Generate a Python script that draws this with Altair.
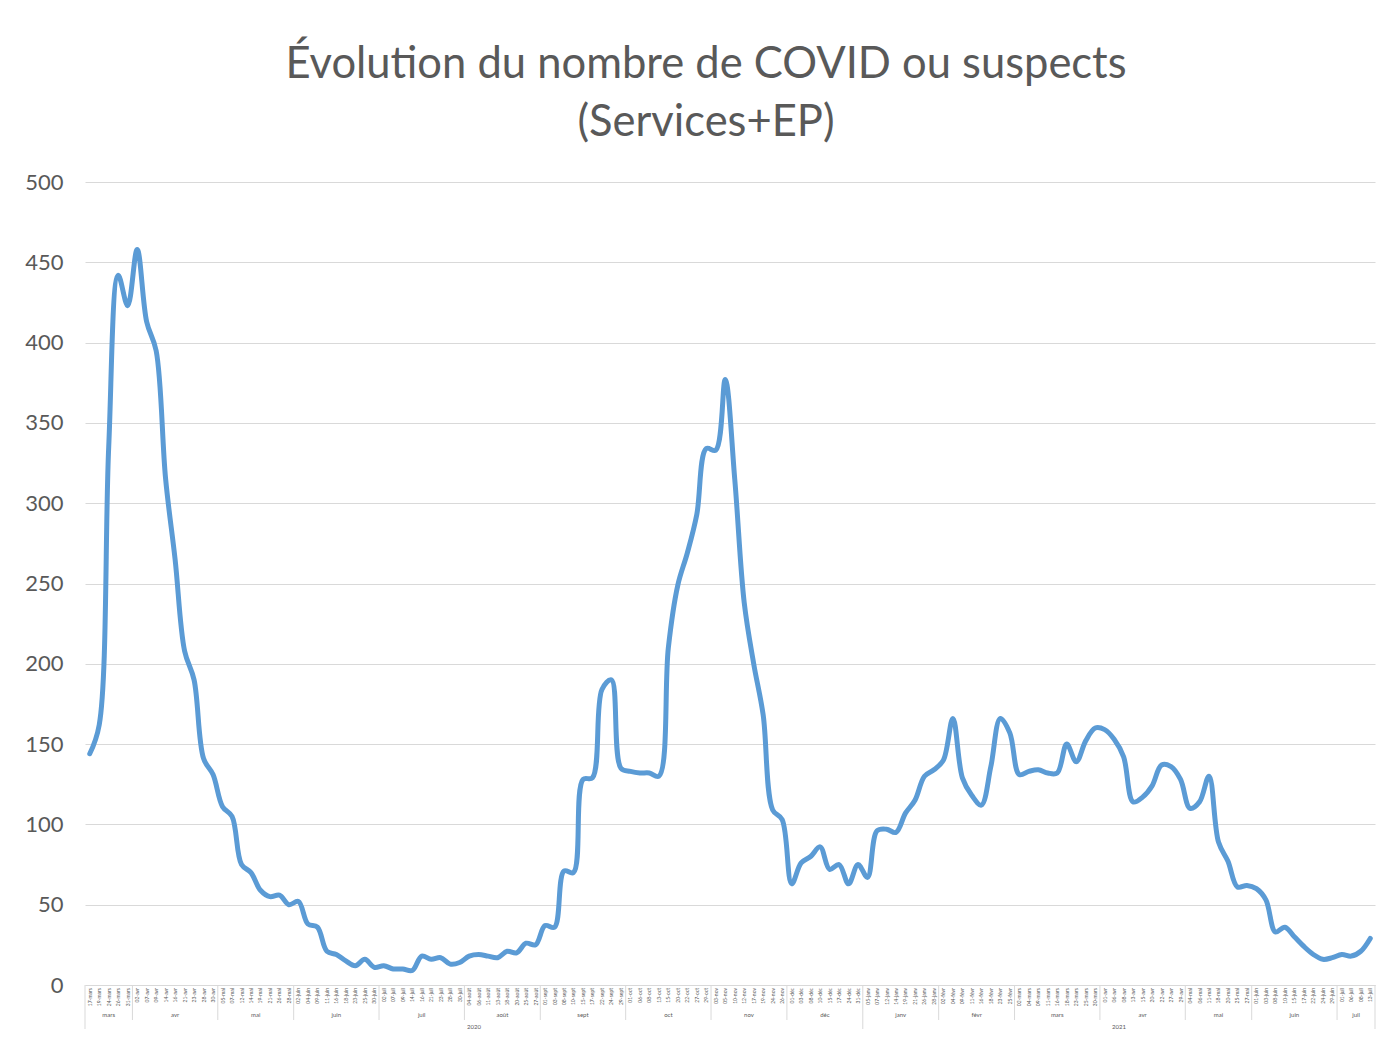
import altair as alt
import pandas as pd

# ---- data ----
months_2020 = ["mars", "avr", "mai", "juin", "juil", "août", "sept", "oct", "nov", "déc"]
days_2020 = [
    [17, 19, 24, 26, 31],
    [2, 7, 9, 14, 16, 21, 23, 28, 30],
    [5, 7, 12, 14, 19, 21, 26, 28],
    [2, 4, 9, 11, 16, 18, 23, 25, 30],
    [2, 7, 9, 14, 16, 21, 23, 28, 30],
    [4, 6, 11, 13, 18, 20, 25, 27],
    [1, 3, 8, 10, 15, 17, 22, 24, 29],
    [1, 6, 8, 13, 15, 20, 22, 27, 29],
    [3, 5, 10, 12, 17, 19, 24, 26],
    [1, 3, 8, 10, 15, 17, 24, 31],
]
months_2021 = ["janv", "févr", "mars", "avr", "mai", "juin", "juil"]
days_2021 = [
    [5, 7, 12, 14, 19, 21, 26, 28],
    [2, 4, 9, 11, 16, 18, 23, 25],
    [2, 4, 9, 11, 16, 18, 23, 25, 30],
    [1, 6, 8, 13, 15, 20, 22, 27, 29],
    [4, 6, 11, 18, 20, 25, 27],
    [1, 3, 8, 10, 15, 17, 22, 24, 29],
    [1, 6, 8, 13],
]
years = ["2020", "2021"]

values = [
    144, 162, 335, 442, 423, 458, 413, 395, 315, 265,
    208, 190, 141, 131, 111, 105, 75, 70, 59, 55,
    56, 50, 52, 38, 36, 21, 19, 15, 12, 16,
    11, 12, 10, 10, 9, 18, 16, 17, 13, 14,
    18, 19, 18, 17, 21, 20, 26, 25, 37, 36,
    71, 70, 128, 129, 184, 190, 135, 133, 132, 132,
    130, 210, 249, 269, 293, 334, 333, 377, 315, 238,
    200, 168, 109, 103, 63, 76, 80, 86, 72, 75,
    63, 75, 67, 96, 97, 95, 107, 115, 130, 134,
    140, 166, 129, 118, 112, 136, 166, 157, 131, 133,
    134, 132, 132, 150, 139, 152, 160, 159, 153, 142,
    114, 117, 124, 137, 136, 128, 110, 114, 130, 89,
    77, 61, 62, 60, 53, 33, 36, 30, 24, 19,
    16, 17, 19, 18, 21, 29,
]

# ---- build tables ----
labels = []
month_rows = []
year_rows = []
idx = 0
for year, mlist, dlist in [(years[0], months_2020, days_2020), (years[1], months_2021, days_2021)]:
    ystart = idx
    for m, ds in zip(mlist, dlist):
        start = idx
        for d in ds:
            labels.append(f"{d:02d}-{m}")
            idx += 1
        month_rows.append({"month": m, "center": (start + idx - 1) / 2, "start": start - 0.5})
    year_rows.append({"year": year, "center": (ystart + idx - 1) / 2, "start": ystart - 0.5})
n = len(labels)

line_df = pd.DataFrame({"i": list(range(n)), "label": labels, "value": values})
month_df = pd.DataFrame(month_rows)
year_df = pd.DataFrame(year_rows)
month_sep_df = month_df[~month_df["start"].isin(year_df["start"])]
edge_df = pd.DataFrame({"pos": list(year_df["start"]) + [n - 0.5]})

W, H = 1290, 803
FONT = "Lato"
GREY = "#595959"
GRID = "#d9d9d9"

xscale = alt.Scale(domain=[-0.5, n - 0.5], nice=False, zero=False)

line = alt.Chart(line_df).mark_line(
    color="#5b9bd5", strokeWidth=5, interpolate="catmull-rom", strokeCap="round", strokeJoin="round"
).encode(
    x=alt.X("i:Q", scale=xscale, title=None,
            axis=alt.Axis(labels=False, ticks=False, grid=False, domainColor=GRID, domainWidth=1)),
    y=alt.Y("value:Q", scale=alt.Scale(domain=[0, 500], nice=False), title=None,
            axis=alt.Axis(values=list(range(0, 501, 50)), labelFontSize=22, labelColor=GREY,
                          labelFont=FONT, labelPadding=22, ticks=False, domain=False,
                          gridColor=GRID, gridWidth=1)),
)

day_text = alt.Chart(line_df).mark_text(
    fontSize=5, color=GREY, font=FONT, angle=270, align="right", baseline="middle"
).encode(x=alt.X("i:Q", scale=xscale), y=alt.value(H + 3), text="label:N")

month_sep = alt.Chart(month_sep_df).mark_rule(color=GRID, strokeWidth=1).encode(
    x=alt.X("start:Q", scale=xscale), y=alt.value(H), y2=alt.value(H + 35)
)
edges = alt.Chart(edge_df).mark_rule(color=GRID, strokeWidth=1).encode(
    x=alt.X("pos:Q", scale=xscale), y=alt.value(H), y2=alt.value(H + 48)
)
month_text = alt.Chart(month_df).mark_text(
    fontSize=6, color=GREY, font=FONT, baseline="middle"
).encode(x=alt.X("center:Q", scale=xscale), y=alt.value(H + 30), text="month:N")
year_text = alt.Chart(year_df).mark_text(
    fontSize=6, color=GREY, font=FONT, baseline="middle"
).encode(x=alt.X("center:Q", scale=xscale), y=alt.value(H + 42), text="year:N")

chart = alt.layer(line, day_text, month_sep, edges, month_text, year_text).properties(
    width=W, height=H,
    title=alt.TitleParams(
        text=["Évolution du nombre de COVID ou suspects", "(Services+EP)"],
        fontSize=43.5, font=FONT, color=GREY, fontWeight="normal", lineHeight=58,
        anchor="middle", dx=-24, offset=26,
    ),
    autosize=alt.AutoSizeParams(type="none"),
    padding={"left": 77, "top": 174, "right": 10, "bottom": 44},
).configure_view(stroke=None)

chart.save("out.html", embed_options={"renderer": "svg", "actions": False})
